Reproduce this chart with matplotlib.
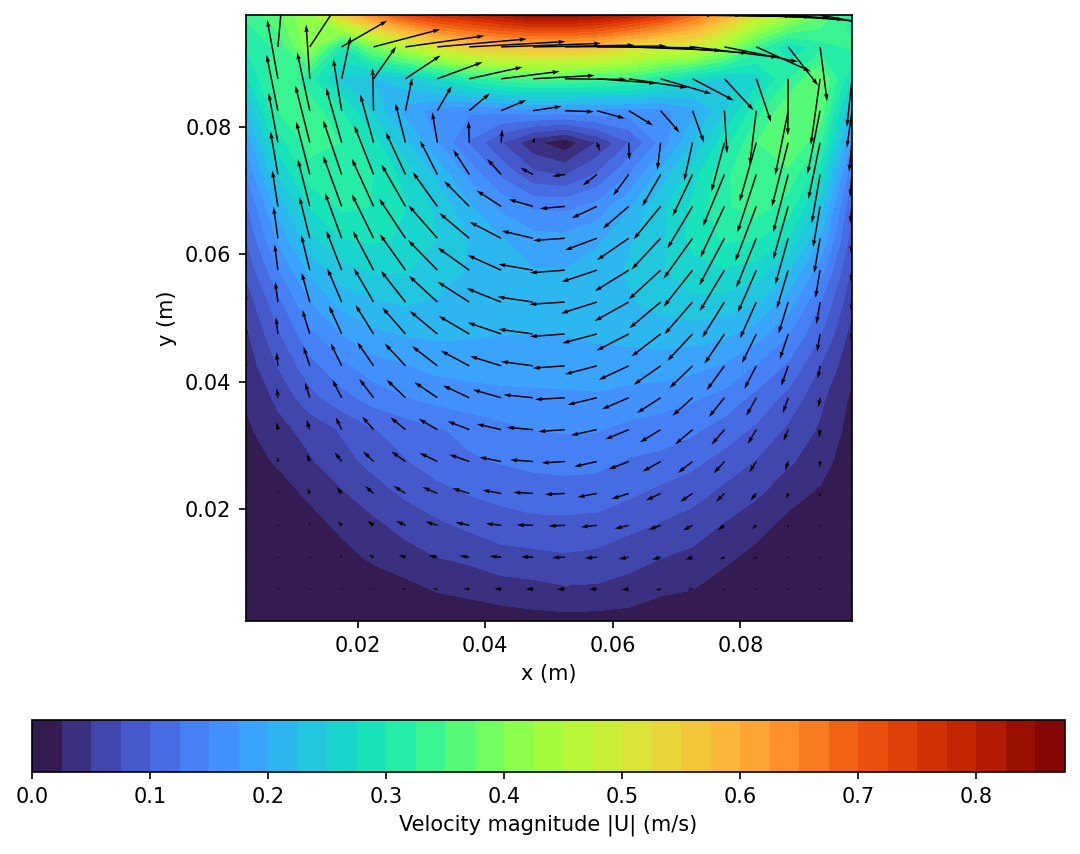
import numpy as np
import matplotlib
matplotlib.use('Agg')
import matplotlib.pyplot as plt

# cell centres of the cavity grid (m)
x_cells = [0.0025, 0.0075, 0.0125, 0.0175, 0.0225, 0.0275, 0.0325, 0.0375, 0.0425, 0.0475,
           0.0525, 0.0575, 0.0625, 0.0675, 0.0725, 0.0775, 0.0825, 0.0875, 0.0925, 0.0975]
y_cells = x_cells[::-1]  # rows below go from the lid down to the floor

# x velocity (m/s) read from the arrows, one row per y
u_rows = [
    [-.02, .12, .30, .50, .63, .71, .76, .79, .82, .85, .85, .83, .80, .75, .68, .60, .50, .44, .37, .29],
    [-.02, .03, .23, .26, .38, .45, .51, .55, .57, .58, .58, .57, .53, .50, .49, .42, .31, .17, .04, .01],
    [-.02, -.061, -.021, .051, .129, .20, .258, .304, .334, .352, .352, .34, .334, .29, .236, .167, .084, -.002, -.053, -.029],
    [-.02, -.065, -.072, -.048, -.006, .038, .082, .118, .144, .163, .165, .16, .139, .108, .065, .015, -.038, -.074, -.072, -.029],
    [-.015, -.053, -.082, -.089, -.076, -.057, -.029, -.004, .006, .01, .005, .017, .004, -.019, -.048, -.074, -.095, -.093, -.067, -.017],
    [-.015, -.042, -.078, -.105, -.11, -.112, -.099, -.091, -.08, -.072, -.072, -.08, -.089, -.105, -.114, -.122, -.108, -.086, -.048, -.011],
    [-.01, -.032, -.068, -.105, -.124, -.137, -.141, -.143, -.141, -.139, -.143, -.143, -.148, -.154, -.143, -.137, -.12, -.086, -.04, -.011],
    [-.01, -.025, -.059, -.095, -.124, -.15, -.165, -.171, -.179, -.179, -.181, -.182, -.181, -.167, -.165, -.143, -.114, -.074, -.034, -.006],
    [-.008, -.019, -.049, -.087, -.118, -.146, -.167, -.181, -.192, -.198, -.2, -.201, -.194, -.182, -.165, -.141, -.105, -.065, -.027, -.005],
    [-.006, -.015, -.046, -.082, -.112, -.141, -.163, -.181, -.196, -.203, -.203, -.205, -.194, -.179, -.16, -.127, -.093, -.055, -.021, -.004],
    [-.005, -.011, -.042, -.072, -.103, -.133, -.158, -.175, -.19, -.198, -.2, -.198, -.184, -.167, -.144, -.114, -.082, -.048, -.017, -.003],
    [-.004, -.008, -.036, -.063, -.093, -.118, -.144, -.162, -.177, -.184, -.184, -.182, -.171, -.154, -.131, -.101, -.068, -.04, -.013, -.002],
    [-.003, -.006, -.027, -.053, -.082, -.108, -.131, -.15, -.162, -.169, -.171, -.167, -.152, -.135, -.114, -.089, -.057, -.03, -.01, -.001],
    [-.002, -.006, -.019, -.034, -.065, -.086, -.106, -.124, -.139, -.15, -.152, -.148, -.133, -.118, -.099, -.074, -.049, -.027, -.006, -.001],
    [-.001, -.002, -.017, -.04, -.059, -.08, -.101, -.114, -.124, -.131, -.133, -.129, -.114, -.103, -.084, -.061, -.04, -.017, -.004, 0],
    [0, -.002, -.013, -.03, -.049, -.067, -.084, -.097, -.106, -.112, -.114, -.11, -.099, -.084, -.07, -.048, -.034, -.011, -.002, 0],
    [0, 0, -.006, -.021, -.036, -.053, -.067, -.078, -.087, -.093, -.093, -.091, -.08, -.068, -.055, -.038, -.025, -.01, 0, 0],
    [0, 0, -.001, -.011, -.027, -.038, -.049, -.055, -.066, -.068, -.072, -.068, -.057, -.049, -.042, -.027, -.015, -.002, 0, 0],
    [0, 0, 0, -.002, -.008, -.017, -.027, -.032, -.038, -.042, -.047, -.046, -.042, -.029, -.025, -.013, -.004, 0, 0, 0],
    [0, 0, 0, -.001, -.002, -.004, -.006, -.008, -.012, -.015, -.016, -.015, -.012, -.009, -.006, -.004, -.002, -.001, 0, 0],
]

# y velocity (m/s)
v_rows = [
    [.33, .35, .30, .22, .15, .10, .06, .04, .02, .01, 0, 0, 0, -.005, -.01, -.015, -.025, -.04, -.07, -.08],
    [.30, .33, .35, .15, .10, .063, .045, .03, .02, .01, .005, -.005, -.02, -.035, -.06, -.085, -.14, -.22, -.31, -.33],
    [.27, .336, .308, .241, .184, .133, .095, .067, .042, .019, -.004, -.025, -.051, -.086, -.124, -.18, -.247, -.323, -.376, -.274],
    [.22, .319, .333, .295, .243, .186, .141, .099, .061, .025, -.006, -.044, -.084, -.125, -.181, -.243, -.31, -.367, -.361, -.211],
    [.18, .283, .325, .312, .274, .224, .173, .122, .076, .03, -.006, -.048, -.099, -.156, -.219, -.279, -.336, -.365, -.323, -.166],
    [.15, .245, .302, .308, .279, .241, .194, .141, .089, .038, -.01, -.063, -.12, -.181, -.238, -.295, -.331, -.331, -.277, -.126],
    [.12, .205, .268, .287, .272, .239, .196, .144, .091, .04, -.013, -.067, -.127, -.188, -.239, -.291, -.314, -.303, -.234, -.097],
    [.10, .179, .236, .258, .251, .226, .188, .144, .093, .042, -.013, -.068, -.125, -.179, -.23, -.268, -.281, -.264, -.198, -.086],
    [.08, .146, .20, .224, .224, .205, .171, .129, .086, .034, -.015, -.067, -.12, -.167, -.209, -.234, -.241, -.219, -.158, -.07],
    [.06, .116, .167, .192, .192, .179, .15, .116, .078, .03, -.013, -.065, -.108, -.15, -.184, -.203, -.207, -.179, -.125, -.055],
    [.045, .095, .137, .16, .165, .152, .131, .103, .065, .027, -.015, -.053, -.095, -.129, -.154, -.171, -.167, -.144, -.101, -.04],
    [.035, .076, .11, .129, .135, .127, .112, .086, .055, .025, -.013, -.048, -.08, -.108, -.127, -.139, -.131, -.114, -.074, -.03],
    [.028, .055, .087, .103, .108, .103, .089, .07, .046, .017, -.01, -.04, -.065, -.087, -.103, -.11, -.103, -.087, -.055, -.02],
    [.02, .042, .055, .07, .074, .07, .061, .048, .032, .013, -.011, -.032, -.055, -.072, -.084, -.086, -.082, -.065, -.046, -.015],
    [.014, .028, .044, .053, .057, .057, .049, .04, .025, .01, -.008, -.029, -.044, -.057, -.065, -.067, -.061, -.051, -.036, -.008],
    [.007, .013, .027, .036, .042, .042, .036, .029, .019, .006, -.006, -.021, -.032, -.04, -.048, -.048, -.042, -.032, -.021, -.004],
    [.003, .004, .013, .023, .025, .025, .021, .017, .01, .002, -.004, -.01, -.019, -.025, -.029, -.029, -.021, -.015, -.004, -.002],
    [.001, .001, .002, .011, .013, .011, .01, .008, .006, .002, -.002, -.006, -.01, -.013, -.013, -.013, -.01, -.004, -.001, -.001],
    [0, 0, .001, .001, .002, .003, .003, .003, .002, 0, -.001, -.002, -.004, -.005, -.005, -.004, -.002, 0, 0, 0],
    [0, 0, 0, 0, 0, 0, 0, 0, 0, 0, 0, 0, 0, 0, 0, 0, 0, 0, 0, 0],
]

cbar_ticks = [0.0, 0.1, 0.2, 0.3, 0.4, 0.5, 0.6, 0.7, 0.8]

X, Y = np.meshgrid(x_cells, y_cells)
Ux = np.array(u_rows)
Uy = np.array(v_rows)
Umag = np.hypot(Ux, Uy)

W, H = 1080, 854
fig = plt.figure(figsize=(W / 150, H / 150), dpi=150)
ax = fig.add_axes([246 / W, 1 - 621 / H, 606 / W, 606 / H])
cax = fig.add_axes([32 / W, 1 - 772 / H, 1033 / W, 52 / H])

levels = np.arange(0, 0.9, 0.025)
cf = ax.contourf(X, Y, Umag, levels=levels, cmap='turbo')
ax.quiver(X, Y, Ux, Uy, color='k', angles='uv', scale_units='width', scale=3.46,
          width=0.0024, pivot='tail')

ax.set_xlim(0.0025, 0.0975)
ax.set_ylim(0.0025, 0.0975)
ax.set_aspect('equal')
ax.set_xticks([0.02, 0.04, 0.06, 0.08])
ax.set_yticks([0.02, 0.04, 0.06, 0.08])
ax.set_xlabel('x (m)')
ax.set_ylabel('y (m)')

cbar = fig.colorbar(cf, cax=cax, orientation='horizontal', ticks=cbar_ticks)
cbar.set_label('Velocity magnitude |U| (m/s)')

fig.savefig('out.png', dpi=150)
